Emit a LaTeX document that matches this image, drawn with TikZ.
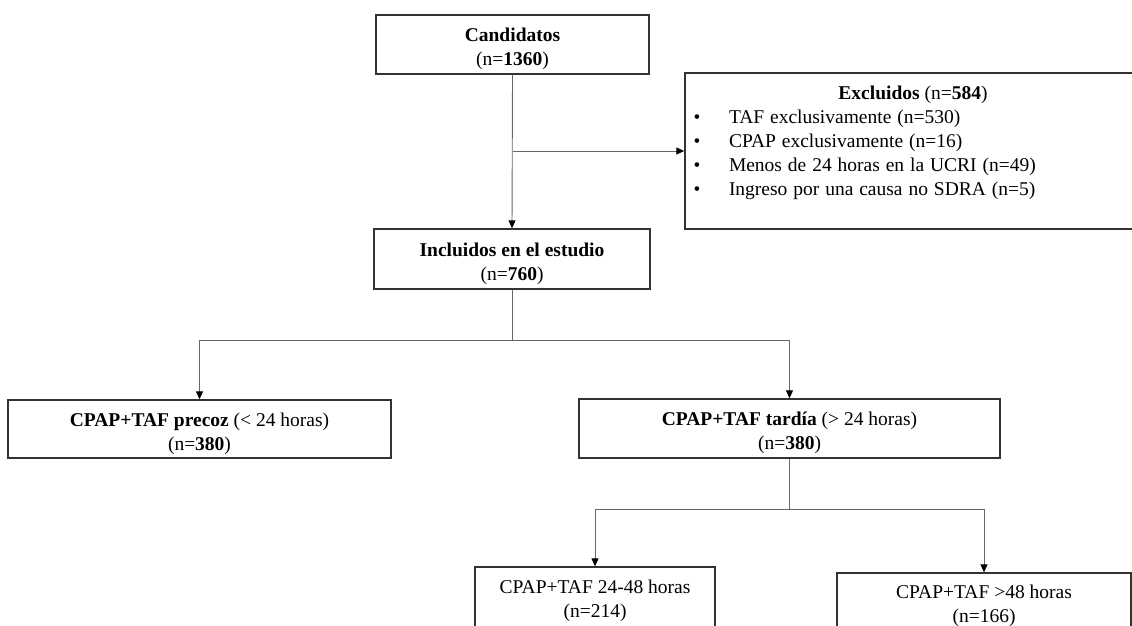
\documentclass[tikz,border=0pt]{standalone}
\usepackage{fontspec}
\setmainfont{Liberation Serif}
\usetikzlibrary{arrows.meta}
\newcommand{\lowtext}[2][4.5pt]{\raisebox{-#1}[\height][\depth]{\begin{tabular}{@{}c@{}}#2\end{tabular}}}
\newcommand{\bulletline}[1]{\hspace*{8.6pt}\makebox[35.4pt][l]{\textbullet}#1\par}
\begin{document}
\begin{tikzpicture}[x=1pt,y=-1pt,
  box/.style={draw=black!80, line width=1.4pt, inner sep=0pt, align=center,
    font=\fontsize{19.5}{24}\selectfont},
  listbox/.style={draw=black!80, line width=1.4pt, inner sep=0pt,
    font=\fontsize{19.5}{24}\selectfont},
  conn/.style={draw=black!60, line width=0.9pt},
  arr/.style={conn, -{Triangle[length=8pt,width=7pt,color=black]}}]
\useasboundingbox (0,0) rectangle (1132,625);
\clip (0,0) rectangle (1132,625);

\node[box, minimum width=273pt, minimum height=59pt] (cand) at (512.5,44.5)
  {\lowtext{\textbf{Candidatos}\\(n=\textbf{1360})}};

\node[listbox, minimum width=456pt, minimum height=156pt] (excl) at (913,151)
  {\raisebox{-5pt}[\height][\depth]{\begin{minipage}{456pt}\setlength{\parindent}{0pt}%
   {\centering\textbf{Excluidos} (n=\textbf{584})\par}%
   \spaceskip=5.9pt plus 1pt\relax
   \bulletline{TAF exclusivamente (n=530)}%
   \bulletline{CPAP exclusivamente (n=16)}%
   \bulletline{Menos de 24 horas en la UCRI (n=49)}%
   \bulletline{Ingreso por una causa no SDRA (n=5)}%
   \strut\end{minipage}}};

\node[box, minimum width=276pt, minimum height=60pt] (incl) at (512,259)
  {\lowtext{\textbf{Incluidos en el estudio}\\(n=\textbf{760})}};

\node[box, minimum width=383pt, minimum height=58pt] (precoz) at (199.5,429)
  {\lowtext{\textbf{CPAP+TAF precoz} (< 24 horas)\\(n=\textbf{380})}};

\node[box, minimum width=421pt, minimum height=59pt] (tardia) at (789.5,428.5)
  {\lowtext{\textbf{CPAP+TAF tardía} (> 24 horas)\\(n=\textbf{380})}};

\node[box, minimum width=240pt, minimum height=63pt] (b1) at (595,598.5)
  {\lowtext[2.5pt]{CPAP+TAF 24-48 horas\\(n=214)}};

\node[box, minimum width=294pt, minimum height=75pt] (b2) at (984,610.5)
  {\lowtext[-5pt]{CPAP+TAF >48 horas\\(n=166)}};

\draw[arr] (cand.south) -- (incl.north);
\draw[arr] (cand.south |- excl.west) -- (excl.west);

\draw[arr] (incl.south) -- ++(0,51) -| (precoz.north);
\draw[arr] (incl.south) -- ++(0,51) -| (tardia.north);

\draw[arr] (tardia.south) -- ++(0,51) -| (b1.north);
\draw[arr] (tardia.south) -- ++(0,51) -| (b2.north);
\end{tikzpicture}
\end{document}
